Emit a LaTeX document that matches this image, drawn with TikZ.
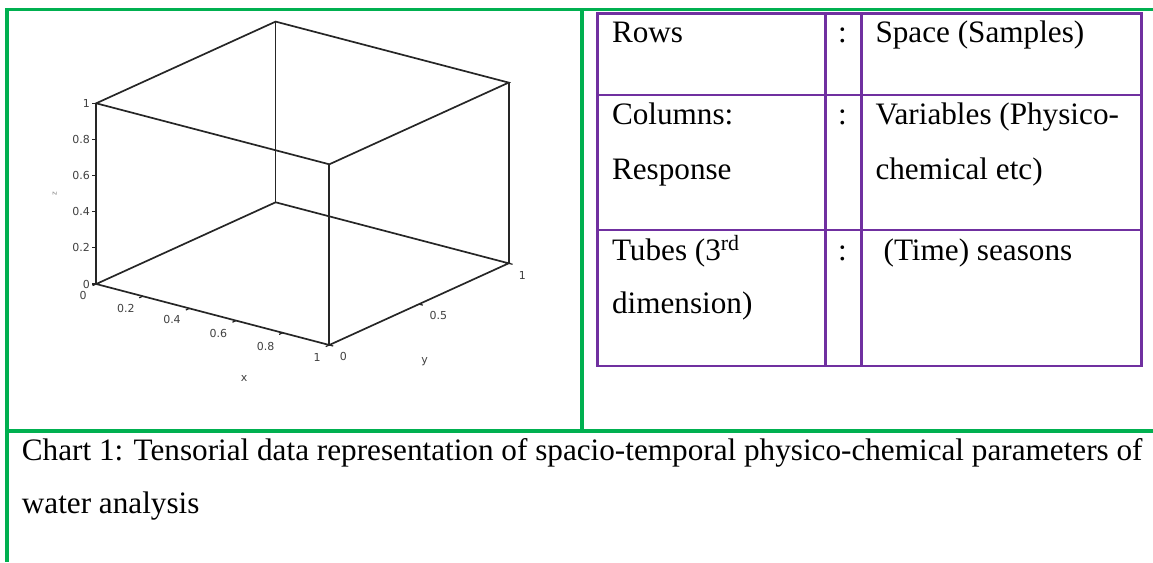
\documentclass[tikz,border=0pt]{standalone}
\usepackage{fontspec}
\setmainfont{Liberation Serif}
\newfontfamily\plotfont{DejaVu Sans}
\definecolor{wgreen}{HTML}{00B050}
\definecolor{wpurple}{HTML}{7030A0}
\begin{document}
\begin{tikzpicture}[x=1pt,y=-1pt,
  frame/.style={draw=wgreen,line width=3.3pt},
  tabline/.style={draw=wpurple,line width=2.7pt},
  txt/.style={anchor=base west,inner sep=0pt,font=\fontsize{31.2}{36}\selectfont},
  colon/.style={anchor=base,inner sep=0pt,font=\fontsize{31.2}{36}\selectfont},
  edgethree/.style={draw=black!85,line width=1.7pt},
  tickmark/.style={draw=black!85,line width=1.2pt},
  lbl/.style={inner sep=0pt,font=\plotfont\fontsize{11}{12}\selectfont,text=black!75},
]
\useasboundingbox (0,0) rectangle (1153,562);
% green frame
\draw[frame] (7,8) -- (7,562);
\draw[frame] (5.35,9.7) -- (1160,9.7);
\draw[frame] (582,9.7) -- (582,431);
\draw[frame] (7,431) -- (1160,431);
% purple table
\draw[tabline] (597.3,13.3) rectangle (1141.3,366);
\draw[tabline] (825.5,13.3) -- (825.5,366);
\draw[tabline] (861.5,13.3) -- (861.5,366);
\draw[tabline] (597.3,95) -- (1141.3,95);
\draw[tabline] (597.3,230) -- (1141.3,230);
% table text
\node[txt] (r1a) at (611.8,42.7) {Rows};
\node[colon] (r1b) at (842.4,42.7) {:};
\node[txt] (r1c) at (875.3,42.7) {Space (Samples)};
\node[txt] (r2a) at (611.8,124) {Columns:};
\node[txt] (r2a2) at (611.8,179) {Response};
\node[colon] (r2b) at (842.4,124) {:};
\node[txt] (r2c) at (875.3,124) {Variables (Physico-};
\node[txt] (r2c2) at (875.3,179) {chemical etc)};
\node[txt] (r3a) at (611.8,260) {Tubes (3\textsuperscript{rd}};
\node[txt] (r3a2) at (611.8,313.3) {dimension)};
\node[colon] (r3b) at (842.4,260) {:};
\node[txt] (r3c) at (883.4,260) {(Time) seasons};
% caption
\node[txt] (cap1) at (21.7,460) {Chart 1: Tensorial data representation of spacio-temporal physico-chemical parameters of};
\node[txt] (cap2) at (21.7,513.3) {water analysis};
% 3D box
\coordinate (O) at (96.2,284);
\coordinate (X) at (329.3,345);
\coordinate (Y) at (275.6,202.3);
\coordinate (XY) at (508.7,263.3);
\coordinate (Z) at (96.2,103.3);
\coordinate (XZ) at (329.3,164.3);
\coordinate (YZ) at (275.6,21.6);
\coordinate (XYZ) at (508.7,82.6);
\draw[edgethree] (O) -- (X) -- (XY) -- (Y) -- cycle;
\draw[edgethree] (Z) -- (XZ) -- (XYZ) -- (YZ) -- cycle;
\draw[edgethree] (O) -- (Z);
\draw[edgethree] (X) -- (XZ);
\draw[edgethree] (Y) -- (YZ);
\draw[edgethree] (XY) -- (XYZ);
% z ticks
\foreach \k/\t in {0/0,1/0.2,2/0.4,3/0.6,4/0.8,5/1}{
  \coordinate (zt\k) at (96.2,284-36.14*\k);
  \draw[tickmark] (zt\k) -- ++(-4,0);
  \node[lbl,anchor=east] (zl\k) at (90,284-36.14*\k) {\t};
}
% x ticks
\foreach \k in {0,1,2,3,4,5}{
  \coordinate (xt\k) at (96.2+46.62*\k,284+12.2*\k);
  \draw[tickmark] (xt\k) -- ++(-3.6,1.6);
}
\node[lbl] (xl0) at (83.2,295) {0};
\node[lbl] (xl1) at (125.8,308.3) {0.2};
\node[lbl] (xl2) at (172,319.3) {0.4};
\node[lbl] (xl3) at (218.3,333.3) {0.6};
\node[lbl] (xl4) at (265.6,346.7) {0.8};
\node[lbl] (xl5) at (317,357.3) {1};
% y ticks
\foreach \k in {0,1,2}{
  \coordinate (yt\k) at (329.3+89.7*\k,345-40.85*\k);
  \draw[tickmark] (yt\k) -- ++(3.9,1);
}
\node[lbl] (yl0) at (343.3,356.7) {0};
\node[lbl] (yl1) at (438.4,315) {0.5};
\node[lbl] (yl2) at (522.4,275) {1};
% axis names
\node[lbl] (xname) at (244.2,378.3) {x};
\node[lbl] (yname) at (424.7,361.7) {y};
\node[lbl,rotate=90,font=\plotfont\fontsize{7}{8}\selectfont,text=black!50] (zname) at (54.8,194) {z};
\end{tikzpicture}
\end{document}
